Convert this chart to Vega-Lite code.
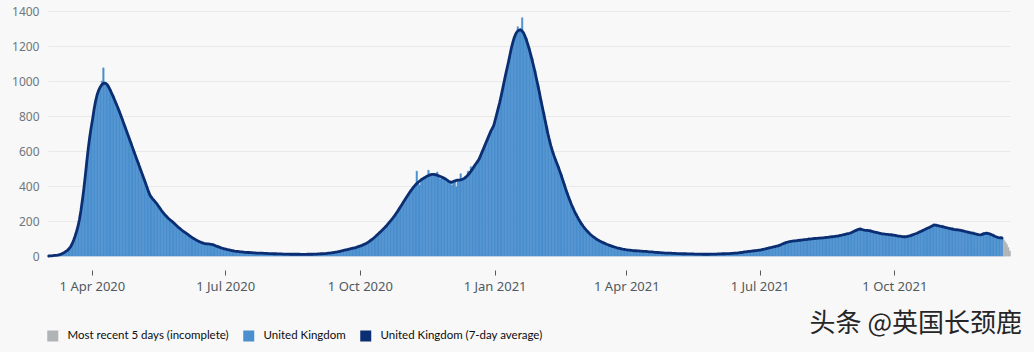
{
"$schema":"https://vega.github.io/schema/vega-lite/v6.json",
"width":962,"height":245,
"autosize":{"type":"none"},
"padding":{"left":48,"top":11,"right":24,"bottom":96},
"background":"#f8f8f8",
"config":{"view":{"stroke":null},"font":"Noto Sans",
  "axisX":{"domain":false,"grid":false,"offset":14,"tickSize":5,"tickColor":"#505a5f","tickWidth":1,"labelPadding":5,"labelFontSize":13,"labelColor":"#505a5f","labelFont":"Noto Sans","format":"%-d %b %Y"},
  "axisY":{"domain":false,"ticks":false,"labelPadding":9,"labelFontSize":12,"labelColor":"#6f777b","labelFont":"Noto Sans","gridColor":"#e9e9e9","gridWidth":1,"format":"d"}},
"title":{"text":"头条 @英国长颈鹿","orient":"bottom","anchor":"end","frame":"group","font":"Noto Sans CJK SC","fontSize":26,"fontWeight":"normal","color":"#262626","offset":-33,"dx":12},
"datasets":{
"daily":[
{"d":"2020-03-02","a":0,"v":0},{"d":"2020-03-03","a":1,"v":1},{"d":"2020-03-04","a":1,"v":2},{"d":"2020-03-05","a":2,"v":2},{"d":"2020-03-06","a":3,"v":3},{"d":"2020-03-07","a":4,"v":5},{"d":"2020-03-08","a":5,"v":5},{"d":"2020-03-09","a":7,"v":8},{"d":"2020-03-10","a":9,"v":9},{"d":"2020-03-11","a":13,"v":13},{"d":"2020-03-12","a":17,"v":18},{"d":"2020-03-13","a":22,"v":22},{"d":"2020-03-14","a":28,"v":28},{"d":"2020-03-15","a":34,"v":35},{"d":"2020-03-16","a":43,"v":45},{"d":"2020-03-17","a":54,"v":54},{"d":"2020-03-18","a":70,"v":72},{"d":"2020-03-19","a":90,"v":90},{"d":"2020-03-20","a":113,"v":115},{"d":"2020-03-21","a":140,"v":140},{"d":"2020-03-22","a":170,"v":172},{"d":"2020-03-23","a":210,"v":210},{"d":"2020-03-24","a":260,"v":262},{"d":"2020-03-25","a":320,"v":320},{"d":"2020-03-26","a":385,"v":388},{"d":"2020-03-27","a":460,"v":460},{"d":"2020-03-28","a":540,"v":545},{"d":"2020-03-29","a":615,"v":615},{"d":"2020-03-30","a":680,"v":683},{"d":"2020-03-31","a":735,"v":738},
{"d":"2020-04-01","a":785,"v":790},{"d":"2020-04-02","a":840,"v":845},{"d":"2020-04-03","a":885,"v":890},{"d":"2020-04-04","a":920,"v":925},{"d":"2020-04-05","a":945,"v":950},{"d":"2020-04-06","a":963,"v":965},{"d":"2020-04-07","a":976,"v":1000},{"d":"2020-04-08","a":984,"v":1075},{"d":"2020-04-09","a":988,"v":990},{"d":"2020-04-10","a":986,"v":985},{"d":"2020-04-11","a":978,"v":975},{"d":"2020-04-12","a":965,"v":960},{"d":"2020-04-13","a":948,"v":950},{"d":"2020-04-14","a":930,"v":925},{"d":"2020-04-15","a":911,"v":915},{"d":"2020-04-16","a":891,"v":890},{"d":"2020-04-17","a":871,"v":870},{"d":"2020-04-18","a":851,"v":850},{"d":"2020-04-19","a":830,"v":830},{"d":"2020-04-20","a":808,"v":805},{"d":"2020-04-21","a":786,"v":785},{"d":"2020-04-22","a":763,"v":760},{"d":"2020-04-23","a":740,"v":740},{"d":"2020-04-24","a":717,"v":715},{"d":"2020-04-25","a":694,"v":690},{"d":"2020-04-26","a":671,"v":670},{"d":"2020-04-27","a":648,"v":650},{"d":"2020-04-28","a":625,"v":620},{"d":"2020-04-29","a":602,"v":600},{"d":"2020-04-30","a":579,"v":560},
{"d":"2020-05-01","a":556,"v":550},{"d":"2020-05-02","a":533,"v":535},{"d":"2020-05-03","a":510,"v":512},{"d":"2020-05-04","a":487,"v":470},{"d":"2020-05-05","a":464,"v":465},{"d":"2020-05-06","a":441,"v":440},{"d":"2020-05-07","a":418,"v":420},{"d":"2020-05-08","a":395,"v":395},{"d":"2020-05-09","a":372,"v":370},{"d":"2020-05-10","a":350,"v":352},{"d":"2020-05-11","a":336,"v":340},{"d":"2020-05-12","a":326,"v":325},{"d":"2020-05-13","a":317,"v":315},{"d":"2020-05-14","a":307,"v":295},{"d":"2020-05-15","a":296,"v":298},{"d":"2020-05-16","a":284,"v":285},{"d":"2020-05-17","a":272,"v":270},{"d":"2020-05-18","a":260,"v":260},{"d":"2020-05-19","a":249,"v":250},{"d":"2020-05-20","a":239,"v":240},{"d":"2020-05-21","a":230,"v":228},{"d":"2020-05-22","a":221,"v":220},{"d":"2020-05-23","a":213,"v":215},{"d":"2020-05-24","a":206,"v":204},{"d":"2020-05-25","a":199,"v":198},{"d":"2020-05-26","a":192,"v":193},{"d":"2020-05-27","a":184,"v":185},{"d":"2020-05-28","a":176,"v":175},{"d":"2020-05-29","a":168,"v":167},{"d":"2020-05-30","a":161,"v":162},{"d":"2020-05-31","a":154,"v":154},
{"d":"2020-06-01","a":147,"v":148},{"d":"2020-06-02","a":141,"v":140},{"d":"2020-06-03","a":135,"v":136},{"d":"2020-06-04","a":129,"v":128},{"d":"2020-06-05","a":123,"v":124},{"d":"2020-06-06","a":117,"v":116},{"d":"2020-06-07","a":111,"v":112},{"d":"2020-06-08","a":105,"v":104},{"d":"2020-06-09","a":100,"v":100},{"d":"2020-06-10","a":95,"v":94},{"d":"2020-06-11","a":90,"v":90},{"d":"2020-06-12","a":86,"v":87},{"d":"2020-06-13","a":82,"v":82},{"d":"2020-06-14","a":78,"v":78},{"d":"2020-06-15","a":75,"v":75},{"d":"2020-06-16","a":72,"v":72},{"d":"2020-06-17","a":70,"v":71},{"d":"2020-06-18","a":69,"v":70},{"d":"2020-06-19","a":69,"v":68},{"d":"2020-06-20","a":68,"v":68},{"d":"2020-06-21","a":67,"v":66},{"d":"2020-06-22","a":65,"v":65},{"d":"2020-06-23","a":62,"v":62},{"d":"2020-06-24","a":58,"v":58},{"d":"2020-06-25","a":55,"v":55},{"d":"2020-06-26","a":52,"v":52},{"d":"2020-06-27","a":49,"v":49},{"d":"2020-06-28","a":46,"v":46},{"d":"2020-06-29","a":43,"v":43},{"d":"2020-06-30","a":41,"v":41},
{"d":"2020-07-01","a":39,"v":39},{"d":"2020-07-02","a":37,"v":37},{"d":"2020-07-03","a":35,"v":35},{"d":"2020-07-04","a":33,"v":33},{"d":"2020-07-05","a":31,"v":31},{"d":"2020-07-06","a":30,"v":30},{"d":"2020-07-07","a":28,"v":28},{"d":"2020-07-08","a":27,"v":27},{"d":"2020-07-09","a":26,"v":26},{"d":"2020-07-10","a":25,"v":25},{"d":"2020-07-11","a":24,"v":24},{"d":"2020-07-12","a":23,"v":23},{"d":"2020-07-13","a":22,"v":22},{"d":"2020-07-14","a":21,"v":21},{"d":"2020-07-15","a":21,"v":21},{"d":"2020-07-16","a":20,"v":20},{"d":"2020-07-17","a":20,"v":20},{"d":"2020-07-18","a":19,"v":19},{"d":"2020-07-19","a":19,"v":19},{"d":"2020-07-20","a":18,"v":18},{"d":"2020-07-21","a":18,"v":18},{"d":"2020-07-22","a":17,"v":17},{"d":"2020-07-23","a":17,"v":17},{"d":"2020-07-24","a":16,"v":16},{"d":"2020-07-25","a":16,"v":16},{"d":"2020-07-26","a":16,"v":16},{"d":"2020-07-27","a":15,"v":15},{"d":"2020-07-28","a":15,"v":15},{"d":"2020-07-29","a":15,"v":15},{"d":"2020-07-30","a":14,"v":14},{"d":"2020-07-31","a":14,"v":14},
{"d":"2020-08-01","a":14,"v":14},{"d":"2020-08-02","a":13,"v":13},{"d":"2020-08-03","a":13,"v":13},{"d":"2020-08-04","a":13,"v":13},{"d":"2020-08-05","a":12,"v":12},{"d":"2020-08-06","a":12,"v":12},{"d":"2020-08-07","a":12,"v":12},{"d":"2020-08-08","a":12,"v":12},{"d":"2020-08-09","a":11,"v":11},{"d":"2020-08-10","a":11,"v":11},{"d":"2020-08-11","a":11,"v":11},{"d":"2020-08-12","a":11,"v":11},{"d":"2020-08-13","a":11,"v":11},{"d":"2020-08-14","a":10,"v":10},{"d":"2020-08-15","a":10,"v":10},{"d":"2020-08-16","a":10,"v":10},{"d":"2020-08-17","a":10,"v":10},{"d":"2020-08-18","a":10,"v":10},{"d":"2020-08-19","a":10,"v":10},{"d":"2020-08-20","a":10,"v":10},{"d":"2020-08-21","a":9,"v":9},{"d":"2020-08-22","a":9,"v":9},{"d":"2020-08-23","a":9,"v":9},{"d":"2020-08-24","a":9,"v":9},{"d":"2020-08-25","a":9,"v":9},{"d":"2020-08-26","a":10,"v":10},{"d":"2020-08-27","a":10,"v":10},{"d":"2020-08-28","a":10,"v":10},{"d":"2020-08-29","a":10,"v":10},{"d":"2020-08-30","a":11,"v":11},{"d":"2020-08-31","a":11,"v":11},
{"d":"2020-09-01","a":11,"v":11},{"d":"2020-09-02","a":12,"v":12},{"d":"2020-09-03","a":12,"v":12},{"d":"2020-09-04","a":13,"v":13},{"d":"2020-09-05","a":13,"v":13},{"d":"2020-09-06","a":14,"v":14},{"d":"2020-09-07","a":14,"v":14},{"d":"2020-09-08","a":15,"v":15},{"d":"2020-09-09","a":16,"v":16},{"d":"2020-09-10","a":17,"v":17},{"d":"2020-09-11","a":18,"v":18},{"d":"2020-09-12","a":19,"v":19},{"d":"2020-09-13","a":20,"v":20},{"d":"2020-09-14","a":22,"v":22},{"d":"2020-09-15","a":23,"v":23},{"d":"2020-09-16","a":25,"v":25},{"d":"2020-09-17","a":27,"v":27},{"d":"2020-09-18","a":29,"v":29},{"d":"2020-09-19","a":31,"v":31},{"d":"2020-09-20","a":33,"v":33},{"d":"2020-09-21","a":35,"v":35},{"d":"2020-09-22","a":37,"v":37},{"d":"2020-09-23","a":39,"v":39},{"d":"2020-09-24","a":41,"v":41},{"d":"2020-09-25","a":43,"v":43},{"d":"2020-09-26","a":45,"v":45},{"d":"2020-09-27","a":47,"v":47},{"d":"2020-09-28","a":49,"v":49},{"d":"2020-09-29","a":52,"v":52},{"d":"2020-09-30","a":55,"v":55},
{"d":"2020-10-01","a":58,"v":58},{"d":"2020-10-02","a":61,"v":62},{"d":"2020-10-03","a":65,"v":65},{"d":"2020-10-04","a":69,"v":70},{"d":"2020-10-05","a":73,"v":73},{"d":"2020-10-06","a":78,"v":78},{"d":"2020-10-07","a":84,"v":85},{"d":"2020-10-08","a":90,"v":90},{"d":"2020-10-09","a":96,"v":97},{"d":"2020-10-10","a":103,"v":103},{"d":"2020-10-11","a":110,"v":112},{"d":"2020-10-12","a":118,"v":118},{"d":"2020-10-13","a":126,"v":127},{"d":"2020-10-14","a":134,"v":134},{"d":"2020-10-15","a":142,"v":143},{"d":"2020-10-16","a":150,"v":150},{"d":"2020-10-17","a":158,"v":160},{"d":"2020-10-18","a":167,"v":167},{"d":"2020-10-19","a":176,"v":178},{"d":"2020-10-20","a":186,"v":186},{"d":"2020-10-21","a":196,"v":198},{"d":"2020-10-22","a":206,"v":206},{"d":"2020-10-23","a":217,"v":218},{"d":"2020-10-24","a":228,"v":228},{"d":"2020-10-25","a":240,"v":242},{"d":"2020-10-26","a":252,"v":252},{"d":"2020-10-27","a":265,"v":266},{"d":"2020-10-28","a":278,"v":278},{"d":"2020-10-29","a":291,"v":292},{"d":"2020-10-30","a":305,"v":305},{"d":"2020-10-31","a":318,"v":318},
{"d":"2020-11-01","a":331,"v":331},{"d":"2020-11-02","a":344,"v":346},{"d":"2020-11-03","a":357,"v":357},{"d":"2020-11-04","a":369,"v":372},{"d":"2020-11-05","a":381,"v":381},{"d":"2020-11-06","a":392,"v":395},{"d":"2020-11-07","a":402,"v":402},{"d":"2020-11-08","a":411,"v":485},{"d":"2020-11-09","a":419,"v":415},{"d":"2020-11-10","a":426,"v":405},{"d":"2020-11-11","a":433,"v":435},{"d":"2020-11-12","a":439,"v":440},{"d":"2020-11-13","a":444,"v":444},{"d":"2020-11-14","a":449,"v":452},{"d":"2020-11-15","a":454,"v":455},{"d":"2020-11-16","a":458,"v":490},{"d":"2020-11-17","a":462,"v":462},{"d":"2020-11-18","a":465,"v":466},{"d":"2020-11-19","a":467,"v":470},{"d":"2020-11-20","a":467,"v":468},{"d":"2020-11-21","a":465,"v":466},{"d":"2020-11-22","a":462,"v":480},{"d":"2020-11-23","a":459,"v":458},{"d":"2020-11-24","a":456,"v":440},{"d":"2020-11-25","a":453,"v":455},{"d":"2020-11-26","a":449,"v":450},{"d":"2020-11-27","a":445,"v":446},{"d":"2020-11-28","a":440,"v":425},{"d":"2020-11-29","a":434,"v":436},{"d":"2020-11-30","a":428,"v":428},
{"d":"2020-12-01","a":423,"v":425},{"d":"2020-12-02","a":421,"v":405},{"d":"2020-12-03","a":424,"v":428},{"d":"2020-12-04","a":428,"v":430},{"d":"2020-12-05","a":431,"v":395},{"d":"2020-12-06","a":433,"v":433},{"d":"2020-12-07","a":434,"v":436},{"d":"2020-12-08","a":435,"v":470},{"d":"2020-12-09","a":437,"v":437},{"d":"2020-12-10","a":440,"v":442},{"d":"2020-12-11","a":445,"v":447},{"d":"2020-12-12","a":452,"v":452},{"d":"2020-12-13","a":460,"v":485},{"d":"2020-12-14","a":470,"v":472},{"d":"2020-12-15","a":480,"v":510},{"d":"2020-12-16","a":492,"v":495},{"d":"2020-12-17","a":505,"v":505},{"d":"2020-12-18","a":518,"v":520},{"d":"2020-12-19","a":530,"v":532},{"d":"2020-12-20","a":542,"v":545},{"d":"2020-12-21","a":555,"v":560},{"d":"2020-12-22","a":575,"v":575},{"d":"2020-12-23","a":595,"v":598},{"d":"2020-12-24","a":615,"v":612},{"d":"2020-12-25","a":635,"v":640},{"d":"2020-12-26","a":655,"v":650},{"d":"2020-12-27","a":675,"v":680},{"d":"2020-12-28","a":695,"v":690},{"d":"2020-12-29","a":715,"v":720},{"d":"2020-12-30","a":730,"v":735},{"d":"2020-12-31","a":748,"v":750},
{"d":"2021-01-01","a":780,"v":785},{"d":"2021-01-02","a":812,"v":815},{"d":"2021-01-03","a":845,"v":850},{"d":"2021-01-04","a":878,"v":880},{"d":"2021-01-05","a":915,"v":920},{"d":"2021-01-06","a":955,"v":950},{"d":"2021-01-07","a":995,"v":1000},{"d":"2021-01-08","a":1035,"v":1040},{"d":"2021-01-09","a":1072,"v":1075},{"d":"2021-01-10","a":1110,"v":1115},{"d":"2021-01-11","a":1150,"v":1145},{"d":"2021-01-12","a":1190,"v":1195},{"d":"2021-01-13","a":1222,"v":1225},{"d":"2021-01-14","a":1250,"v":1250},{"d":"2021-01-15","a":1270,"v":1275},{"d":"2021-01-16","a":1283,"v":1310},{"d":"2021-01-17","a":1290,"v":1295},{"d":"2021-01-18","a":1292,"v":1300},{"d":"2021-01-19","a":1288,"v":1361},{"d":"2021-01-20","a":1278,"v":1280},{"d":"2021-01-21","a":1262,"v":1260},{"d":"2021-01-22","a":1240,"v":1245},{"d":"2021-01-23","a":1214,"v":1210},{"d":"2021-01-24","a":1186,"v":1190},{"d":"2021-01-25","a":1156,"v":1150},{"d":"2021-01-26","a":1124,"v":1130},{"d":"2021-01-27","a":1090,"v":1085},{"d":"2021-01-28","a":1054,"v":1060},{"d":"2021-01-29","a":1016,"v":1010},{"d":"2021-01-30","a":978,"v":980},{"d":"2021-01-31","a":938,"v":935},
{"d":"2021-02-01","a":895,"v":890},{"d":"2021-02-02","a":855,"v":850},{"d":"2021-02-03","a":815,"v":820},{"d":"2021-02-04","a":775,"v":770},{"d":"2021-02-05","a":735,"v":740},{"d":"2021-02-06","a":695,"v":690},{"d":"2021-02-07","a":660,"v":665},{"d":"2021-02-08","a":628,"v":625},{"d":"2021-02-09","a":600,"v":600},{"d":"2021-02-10","a":575,"v":570},{"d":"2021-02-11","a":552,"v":555},{"d":"2021-02-12","a":530,"v":528},{"d":"2021-02-13","a":508,"v":510},{"d":"2021-02-14","a":485,"v":480},{"d":"2021-02-15","a":461,"v":465},{"d":"2021-02-16","a":436,"v":432},{"d":"2021-02-17","a":410,"v":412},{"d":"2021-02-18","a":385,"v":380},{"d":"2021-02-19","a":360,"v":362},{"d":"2021-02-20","a":337,"v":335},{"d":"2021-02-21","a":315,"v":318},{"d":"2021-02-22","a":294,"v":290},{"d":"2021-02-23","a":275,"v":276},{"d":"2021-02-24","a":257,"v":255},{"d":"2021-02-25","a":240,"v":242},{"d":"2021-02-26","a":224,"v":222},{"d":"2021-02-27","a":209,"v":210},{"d":"2021-02-28","a":195,"v":193},
{"d":"2021-03-01","a":182,"v":183},{"d":"2021-03-02","a":170,"v":169},{"d":"2021-03-03","a":159,"v":160},{"d":"2021-03-04","a":149,"v":148},{"d":"2021-03-05","a":140,"v":141},{"d":"2021-03-06","a":131,"v":130},{"d":"2021-03-07","a":123,"v":124},{"d":"2021-03-08","a":116,"v":115},{"d":"2021-03-09","a":109,"v":110},{"d":"2021-03-10","a":103,"v":102},{"d":"2021-03-11","a":97,"v":97},{"d":"2021-03-12","a":92,"v":92},{"d":"2021-03-13","a":87,"v":87},{"d":"2021-03-14","a":83,"v":83},{"d":"2021-03-15","a":79,"v":79},{"d":"2021-03-16","a":75,"v":75},{"d":"2021-03-17","a":71,"v":71},{"d":"2021-03-18","a":67,"v":67},{"d":"2021-03-19","a":64,"v":64},{"d":"2021-03-20","a":61,"v":61},{"d":"2021-03-21","a":58,"v":58},{"d":"2021-03-22","a":55,"v":55},{"d":"2021-03-23","a":52,"v":52},{"d":"2021-03-24","a":50,"v":50},{"d":"2021-03-25","a":47,"v":47},{"d":"2021-03-26","a":45,"v":45},{"d":"2021-03-27","a":43,"v":43},{"d":"2021-03-28","a":41,"v":41},{"d":"2021-03-29","a":39,"v":39},{"d":"2021-03-30","a":38,"v":38},{"d":"2021-03-31","a":36,"v":36},
{"d":"2021-04-01","a":35,"v":35},{"d":"2021-04-02","a":34,"v":34},{"d":"2021-04-03","a":33,"v":33},{"d":"2021-04-04","a":32,"v":32},{"d":"2021-04-05","a":31,"v":31},{"d":"2021-04-06","a":30,"v":30},{"d":"2021-04-07","a":30,"v":30},{"d":"2021-04-08","a":29,"v":29},{"d":"2021-04-09","a":29,"v":29},{"d":"2021-04-10","a":28,"v":28},{"d":"2021-04-11","a":28,"v":28},{"d":"2021-04-12","a":27,"v":27},{"d":"2021-04-13","a":27,"v":27},{"d":"2021-04-14","a":26,"v":26},{"d":"2021-04-15","a":25,"v":25},{"d":"2021-04-16","a":24,"v":24},{"d":"2021-04-17","a":24,"v":24},{"d":"2021-04-18","a":23,"v":23},{"d":"2021-04-19","a":22,"v":22},{"d":"2021-04-20","a":21,"v":21},{"d":"2021-04-21","a":21,"v":21},{"d":"2021-04-22","a":20,"v":20},{"d":"2021-04-23","a":19,"v":19},{"d":"2021-04-24","a":19,"v":19},{"d":"2021-04-25","a":18,"v":18},{"d":"2021-04-26","a":18,"v":18},{"d":"2021-04-27","a":17,"v":17},{"d":"2021-04-28","a":17,"v":17},{"d":"2021-04-29","a":16,"v":16},{"d":"2021-04-30","a":16,"v":16},
{"d":"2021-05-01","a":16,"v":16},{"d":"2021-05-02","a":15,"v":15},{"d":"2021-05-03","a":15,"v":15},{"d":"2021-05-04","a":15,"v":15},{"d":"2021-05-05","a":14,"v":14},{"d":"2021-05-06","a":14,"v":14},{"d":"2021-05-07","a":14,"v":14},{"d":"2021-05-08","a":13,"v":13},{"d":"2021-05-09","a":13,"v":13},{"d":"2021-05-10","a":13,"v":13},{"d":"2021-05-11","a":13,"v":13},{"d":"2021-05-12","a":12,"v":12},{"d":"2021-05-13","a":12,"v":12},{"d":"2021-05-14","a":12,"v":12},{"d":"2021-05-15","a":12,"v":12},{"d":"2021-05-16","a":12,"v":12},{"d":"2021-05-17","a":11,"v":11},{"d":"2021-05-18","a":11,"v":11},{"d":"2021-05-19","a":11,"v":11},{"d":"2021-05-20","a":11,"v":11},{"d":"2021-05-21","a":11,"v":11},{"d":"2021-05-22","a":11,"v":11},{"d":"2021-05-23","a":10,"v":10},{"d":"2021-05-24","a":10,"v":10},{"d":"2021-05-25","a":10,"v":10},{"d":"2021-05-26","a":10,"v":10},{"d":"2021-05-27","a":10,"v":10},{"d":"2021-05-28","a":11,"v":11},{"d":"2021-05-29","a":11,"v":11},{"d":"2021-05-30","a":11,"v":11},{"d":"2021-05-31","a":11,"v":11},
{"d":"2021-06-01","a":11,"v":11},{"d":"2021-06-02","a":12,"v":12},{"d":"2021-06-03","a":12,"v":12},{"d":"2021-06-04","a":12,"v":12},{"d":"2021-06-05","a":13,"v":13},{"d":"2021-06-06","a":13,"v":13},{"d":"2021-06-07","a":13,"v":13},{"d":"2021-06-08","a":14,"v":14},{"d":"2021-06-09","a":14,"v":14},{"d":"2021-06-10","a":14,"v":14},{"d":"2021-06-11","a":15,"v":15},{"d":"2021-06-12","a":15,"v":15},{"d":"2021-06-13","a":16,"v":16},{"d":"2021-06-14","a":16,"v":16},{"d":"2021-06-15","a":17,"v":17},{"d":"2021-06-16","a":18,"v":18},{"d":"2021-06-17","a":19,"v":19},{"d":"2021-06-18","a":20,"v":20},{"d":"2021-06-19","a":21,"v":21},{"d":"2021-06-20","a":23,"v":23},{"d":"2021-06-21","a":24,"v":24},{"d":"2021-06-22","a":25,"v":25},{"d":"2021-06-23","a":26,"v":26},{"d":"2021-06-24","a":27,"v":27},{"d":"2021-06-25","a":28,"v":28},{"d":"2021-06-26","a":29,"v":29},{"d":"2021-06-27","a":30,"v":30},{"d":"2021-06-28","a":31,"v":31},{"d":"2021-06-29","a":32,"v":32},{"d":"2021-06-30","a":33,"v":33},
{"d":"2021-07-01","a":34,"v":34},{"d":"2021-07-02","a":36,"v":36},{"d":"2021-07-03","a":38,"v":38},{"d":"2021-07-04","a":40,"v":40},{"d":"2021-07-05","a":42,"v":42},{"d":"2021-07-06","a":44,"v":44},{"d":"2021-07-07","a":46,"v":46},{"d":"2021-07-08","a":48,"v":48},{"d":"2021-07-09","a":50,"v":50},{"d":"2021-07-10","a":52,"v":52},{"d":"2021-07-11","a":54,"v":54},{"d":"2021-07-12","a":56,"v":56},{"d":"2021-07-13","a":58,"v":58},{"d":"2021-07-14","a":61,"v":61},{"d":"2021-07-15","a":64,"v":64},{"d":"2021-07-16","a":68,"v":68},{"d":"2021-07-17","a":72,"v":72},{"d":"2021-07-18","a":75,"v":75},{"d":"2021-07-19","a":78,"v":78},{"d":"2021-07-20","a":80,"v":86},{"d":"2021-07-21","a":82,"v":82},{"d":"2021-07-22","a":84,"v":84},{"d":"2021-07-23","a":85,"v":85},{"d":"2021-07-24","a":86,"v":86},{"d":"2021-07-25","a":87,"v":87},{"d":"2021-07-26","a":88,"v":88},{"d":"2021-07-27","a":89,"v":94},{"d":"2021-07-28","a":90,"v":90},{"d":"2021-07-29","a":91,"v":91},{"d":"2021-07-30","a":92,"v":92},{"d":"2021-07-31","a":93,"v":93},
{"d":"2021-08-01","a":94,"v":94},{"d":"2021-08-02","a":95,"v":95},{"d":"2021-08-03","a":96,"v":104},{"d":"2021-08-04","a":97,"v":97},{"d":"2021-08-05","a":98,"v":94},{"d":"2021-08-06","a":99,"v":99},{"d":"2021-08-07","a":100,"v":100},{"d":"2021-08-08","a":101,"v":101},{"d":"2021-08-09","a":101,"v":101},{"d":"2021-08-10","a":102,"v":108},{"d":"2021-08-11","a":102,"v":102},{"d":"2021-08-12","a":103,"v":103},{"d":"2021-08-13","a":104,"v":104},{"d":"2021-08-14","a":105,"v":105},{"d":"2021-08-15","a":106,"v":106},{"d":"2021-08-16","a":107,"v":107},{"d":"2021-08-17","a":108,"v":113},{"d":"2021-08-18","a":109,"v":109},{"d":"2021-08-19","a":110,"v":110},{"d":"2021-08-20","a":111,"v":111},{"d":"2021-08-21","a":112,"v":112},{"d":"2021-08-22","a":113,"v":113},{"d":"2021-08-23","a":114,"v":114},{"d":"2021-08-24","a":116,"v":122},{"d":"2021-08-25","a":118,"v":118},{"d":"2021-08-26","a":120,"v":120},{"d":"2021-08-27","a":122,"v":122},{"d":"2021-08-28","a":124,"v":124},{"d":"2021-08-29","a":126,"v":126},{"d":"2021-08-30","a":128,"v":128},{"d":"2021-08-31","a":130,"v":136},
{"d":"2021-09-01","a":133,"v":133},{"d":"2021-09-02","a":137,"v":137},{"d":"2021-09-03","a":141,"v":136},{"d":"2021-09-04","a":145,"v":145},{"d":"2021-09-05","a":149,"v":149},{"d":"2021-09-06","a":152,"v":152},{"d":"2021-09-07","a":153,"v":162},{"d":"2021-09-08","a":152,"v":152},{"d":"2021-09-09","a":150,"v":150},{"d":"2021-09-10","a":148,"v":148},{"d":"2021-09-11","a":147,"v":147},{"d":"2021-09-12","a":146,"v":146},{"d":"2021-09-13","a":145,"v":145},{"d":"2021-09-14","a":143,"v":150},{"d":"2021-09-15","a":141,"v":141},{"d":"2021-09-16","a":139,"v":139},{"d":"2021-09-17","a":137,"v":137},{"d":"2021-09-18","a":135,"v":135},{"d":"2021-09-19","a":133,"v":133},{"d":"2021-09-20","a":131,"v":131},{"d":"2021-09-21","a":129,"v":122},{"d":"2021-09-22","a":127,"v":127},{"d":"2021-09-23","a":126,"v":126},{"d":"2021-09-24","a":125,"v":125},{"d":"2021-09-25","a":124,"v":124},{"d":"2021-09-26","a":123,"v":123},{"d":"2021-09-27","a":122,"v":122},{"d":"2021-09-28","a":121,"v":128},{"d":"2021-09-29","a":120,"v":120},{"d":"2021-09-30","a":119,"v":119},
{"d":"2021-10-01","a":118,"v":118},{"d":"2021-10-02","a":116,"v":116},{"d":"2021-10-03","a":114,"v":114},{"d":"2021-10-04","a":113,"v":113},{"d":"2021-10-05","a":112,"v":106},{"d":"2021-10-06","a":111,"v":111},{"d":"2021-10-07","a":110,"v":110},{"d":"2021-10-08","a":110,"v":110},{"d":"2021-10-09","a":111,"v":111},{"d":"2021-10-10","a":113,"v":113},{"d":"2021-10-11","a":115,"v":115},{"d":"2021-10-12","a":118,"v":124},{"d":"2021-10-13","a":121,"v":121},{"d":"2021-10-14","a":124,"v":124},{"d":"2021-10-15","a":127,"v":127},{"d":"2021-10-16","a":130,"v":130},{"d":"2021-10-17","a":134,"v":134},{"d":"2021-10-18","a":138,"v":138},{"d":"2021-10-19","a":142,"v":150},{"d":"2021-10-20","a":146,"v":146},{"d":"2021-10-21","a":150,"v":150},{"d":"2021-10-22","a":154,"v":154},{"d":"2021-10-23","a":158,"v":158},{"d":"2021-10-24","a":162,"v":162},{"d":"2021-10-25","a":166,"v":166},{"d":"2021-10-26","a":170,"v":176},{"d":"2021-10-27","a":174,"v":184},{"d":"2021-10-28","a":177,"v":177},{"d":"2021-10-29","a":176,"v":176},{"d":"2021-10-30","a":174,"v":174},{"d":"2021-10-31","a":172,"v":172},
{"d":"2021-11-01","a":170,"v":170},{"d":"2021-11-02","a":168,"v":176},{"d":"2021-11-03","a":166,"v":166},{"d":"2021-11-04","a":164,"v":164},{"d":"2021-11-05","a":162,"v":155},{"d":"2021-11-06","a":160,"v":160},{"d":"2021-11-07","a":158,"v":158},{"d":"2021-11-08","a":156,"v":156},{"d":"2021-11-09","a":154,"v":162},{"d":"2021-11-10","a":152,"v":152},{"d":"2021-11-11","a":151,"v":151},{"d":"2021-11-12","a":150,"v":150},{"d":"2021-11-13","a":149,"v":149},{"d":"2021-11-14","a":148,"v":148},{"d":"2021-11-15","a":146,"v":146},{"d":"2021-11-16","a":144,"v":150},{"d":"2021-11-17","a":142,"v":142},{"d":"2021-11-18","a":140,"v":140},{"d":"2021-11-19","a":138,"v":138},{"d":"2021-11-20","a":136,"v":136},{"d":"2021-11-21","a":134,"v":134},{"d":"2021-11-22","a":132,"v":132},{"d":"2021-11-23","a":130,"v":138},{"d":"2021-11-24","a":128,"v":128},{"d":"2021-11-25","a":126,"v":126},{"d":"2021-11-26","a":124,"v":124},{"d":"2021-11-27","a":122,"v":122},{"d":"2021-11-28","a":121,"v":121},{"d":"2021-11-29","a":122,"v":122},{"d":"2021-11-30","a":125,"v":134},
{"d":"2021-12-01","a":128,"v":128},{"d":"2021-12-02","a":130,"v":130},{"d":"2021-12-03","a":130,"v":130},{"d":"2021-12-04","a":128,"v":128},{"d":"2021-12-05","a":125,"v":125},{"d":"2021-12-06","a":121,"v":121},{"d":"2021-12-07","a":117,"v":125},{"d":"2021-12-08","a":113,"v":113},{"d":"2021-12-09","a":110,"v":110},{"d":"2021-12-10","a":107,"v":107},{"d":"2021-12-11","a":105,"v":105},{"d":"2021-12-12","a":104,"v":112},{"d":"2021-12-13","a":103,"v":103}
],
"recent":[
{"d":"2021-12-14","v":92},{"d":"2021-12-15","v":80},{"d":"2021-12-16","v":66},{"d":"2021-12-17","v":48},{"d":"2021-12-18","v":28}
]
},
"layer":[
{"data":{"name":"daily"},
 "mark":{"type":"bar","binSpacing":0,"stroke":"#4b8fce","strokeWidth":0.5},
 "encoding":{
  "x":{"field":"d","type":"temporal","timeUnit":"utcyearmonthdate","title":null,
       "scale":{"domain":[{"year":2020,"month":3,"date":2,"utc":true},{"year":2021,"month":12,"date":19,"utc":true}]},
       "axis":{"values":[{"year":2020,"month":4,"date":1,"utc":true},{"year":2020,"month":7,"date":1,"utc":true},{"year":2020,"month":10,"date":1,"utc":true},{"year":2021,"month":1,"date":1,"utc":true},{"year":2021,"month":4,"date":1,"utc":true},{"year":2021,"month":7,"date":1,"utc":true},{"year":2021,"month":10,"date":1,"utc":true}],"format":"%-d %b %Y"}},
  "y":{"field":"v","type":"quantitative","title":null,
       "scale":{"domain":[0,1400]},
       "axis":{"values":[0,200,400,600,800,1000,1200,1400],"format":"d"}},
  "color":{"datum":"United Kingdom","type":"nominal",
       "scale":{"domain":["Most recent 5 days (incomplete)","United Kingdom","United Kingdom (7-day average)"],"range":["#b1b4b6","#4b8fce","#0b2e72"]},
       "legend":{"title":null,"orient":"none","legendX":-1,"legendY":319,"direction":"horizontal","padding":0,"labelLimit":400,
                 "labelFont":"Lato","labelFontSize":11.5,"labelColor":"#0b0c0c","symbolSize":90,"labelOffset":9,"columnPadding":12,
                 "encode":{"symbols":{"update":{
                   "shape":{"signal":"datum.value === 'United Kingdom (7-day average)' ? 'stroke' : 'square'"},
                   "fill":{"signal":"datum.value === 'United Kingdom (7-day average)' ? 'transparent' : scale('color', datum.value)"},
                   "stroke":{"signal":"scale('color', datum.value)"},
                   "strokeWidth":{"signal":"datum.value === 'United Kingdom (7-day average)' ? 3 : 0"},
                   "opacity":{"value":1}}}}}}
 }},
{"data":{"name":"recent"},
 "mark":{"type":"bar","binSpacing":0,"stroke":"#b1b4b6","strokeWidth":0.5},
 "encoding":{
  "x":{"field":"d","type":"temporal","timeUnit":"utcyearmonthdate","title":null,
       "axis":{"values":[{"year":2020,"month":4,"date":1,"utc":true},{"year":2020,"month":7,"date":1,"utc":true},{"year":2020,"month":10,"date":1,"utc":true},{"year":2021,"month":1,"date":1,"utc":true},{"year":2021,"month":4,"date":1,"utc":true},{"year":2021,"month":7,"date":1,"utc":true},{"year":2021,"month":10,"date":1,"utc":true}],"format":"%-d %b %Y"}},
  "y":{"field":"v","type":"quantitative","title":null,"axis":{"values":[0,200,400,600,800,1000,1200,1400],"format":"d"}},
  "color":{"datum":"Most recent 5 days (incomplete)","type":"nominal"}
 }},
{"data":{"name":"daily"},
 "mark":{"type":"line","strokeWidth":2.8,"strokeJoin":"round","strokeCap":"round"},
 "encoding":{
  "x":{"field":"d","type":"temporal","timeUnit":"utcyearmonthdate","bandPosition":0.5,"title":null,
       "axis":{"values":[{"year":2020,"month":4,"date":1,"utc":true},{"year":2020,"month":7,"date":1,"utc":true},{"year":2020,"month":10,"date":1,"utc":true},{"year":2021,"month":1,"date":1,"utc":true},{"year":2021,"month":4,"date":1,"utc":true},{"year":2021,"month":7,"date":1,"utc":true},{"year":2021,"month":10,"date":1,"utc":true}],"format":"%-d %b %Y"}},
  "y":{"field":"a","type":"quantitative","title":null,"axis":{"values":[0,200,400,600,800,1000,1200,1400],"format":"d"}},
  "color":{"datum":"United Kingdom (7-day average)","type":"nominal"}
 }}
]
}
